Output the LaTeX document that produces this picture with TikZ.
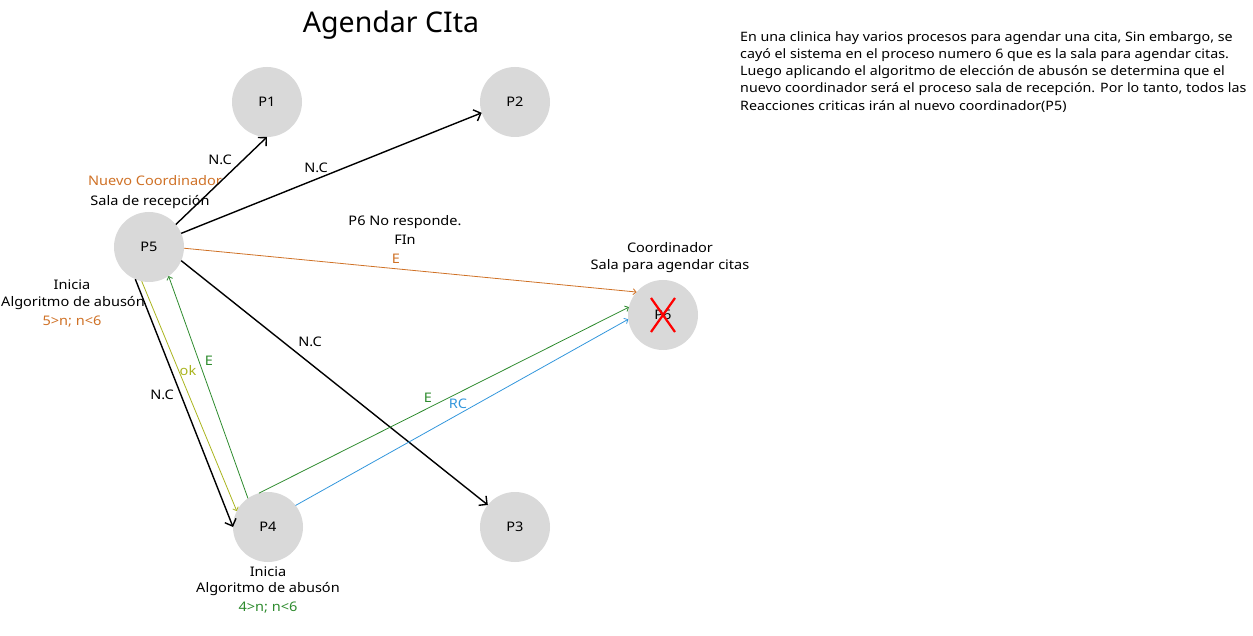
\documentclass[tikz,border=0pt]{standalone}
\usepackage{fontspec}
\setmainfont[FakeStretch=1.1]{Noto Sans}
\newfontfamily\titlefont{Noto Sans}
\usetikzlibrary{arrows.meta}
\definecolor{nodegrey}{HTML}{D9D9D9}
\definecolor{orng}{HTML}{CF7126}
\definecolor{grn}{HTML}{2E8B2E}
\definecolor{ylw}{HTML}{AAB41E}
\definecolor{blu}{HTML}{3296DC}
\tikzset{
  proc/.style={circle, fill=nodegrey, minimum size=70pt, inner sep=0pt, outer sep=0pt, font=\fontsize{13.2}{15}\selectfont},
  lbl/.style={inner sep=0pt, font=\fontsize{13.2}{15}\selectfont, align=center},
  blk/.style={draw=black, line width=1.4pt, -{Straight Barb[length=6pt,width=12pt,line width=1.4pt]}},
  thin/.style={line width=0.8pt, -{Straight Barb[length=3pt,width=6pt,line width=0.8pt]}},
}
\begin{document}
\begin{tikzpicture}[x=1pt,y=-1pt]
\useasboundingbox (0,0) rectangle (1253,636);
% nodes
\node[proc] (p1) at (267,102) {P1};
\node[proc] (p2) at (515,102) {P2};
\node[proc] (p5) at (149,247) {P5};
\node[proc] (p6) at (663,315) {P6};
\node[proc] (p4) at (268,527) {P4};
\node[proc] (p3) at (515,527) {P3};
% red cross
\draw[red, line width=2.2pt] ([shift={(-12pt,-17pt)}]p6.center) coordinate (x1) -- ([shift={(12pt,17pt)}]p6.center) coordinate (x2);
\draw[red, line width=2.2pt] ([shift={(12pt,-17pt)}]p6.center) coordinate (x3) -- ([shift={(-12pt,17pt)}]p6.center) coordinate (x4);
% title and text
\node[lbl, font=\titlefont\fontsize{28.5}{32}\selectfont] (title) at (391,25) {Agendar CIta};
\node[lbl, anchor=north west, align=left, font=\fontsize{12.95}{17.3}\selectfont] (desc) at (740,31) {En una clinica hay varios procesos para agendar una cita, Sin embargo, se\\cayó el sistema en el proceso numero 6 que es la sala para agendar citas.\\Luego aplicando el algoritmo de elección de abusón se determina que el\\nuevo coordinador será el proceso sala de recepción. Por lo tanto, todos las\\Reacciones criticas irán al nuevo coordinador(P5)};
\node[lbl, text=orng] (nc) at (155,181) {Nuevo Coordinador};
\node[lbl] (sr) at (150,202) {Sala de recepción};
\node[lbl] (i5) at (72,285) {Inicia};
\node[lbl] (a5) at (73,303) {Algoritmo de abusón};
\node[lbl, text=orng] (n5) at (72,322) {5>n; n<6};
\node[lbl] (i4) at (268,572) {Inicia};
\node[lbl] (a4) at (268,589) {Algoritmo de abusón};
\node[lbl, text=grn] (n4) at (268,608) {4>n; n<6};
\node[lbl] (nr) at (405,222) {P6 No responde.};
\node[lbl] (fin) at (405,240) {FIn};
\node[lbl] (co) at (670,248) {Coordinador};
\node[lbl] (sp) at (670,266) {Sala para agendar citas};
% connectors
\draw[blk] (p5.40) -- (p1.south);
\draw[blk] (p5.23) -- (p2.-162);
\draw[blk] (p5.-23) -- (p3.141);
\draw[blk] (p5.-113) -- (p4.180);
\draw[thin, draw=orng] (p5.-2) -- (p6.139);
\draw[thin, draw=ylw] (p5.-102) -- (p4.153);
\draw[thin, draw=grn] (p4.125) -- (p5.-56);
\draw[thin, draw=grn] (p4.105) -- (p6.167);
\draw[thin, draw=blu] (p4.38) -- (p6.-173);
% connector labels
\node[lbl] (l1) at (220,160) {N.C};
\node[lbl] (l2) at (316,168) {N.C};
\node[lbl] (l3) at (310,342) {N.C};
\node[lbl] (l4) at (162,395) {N.C};
\node[lbl, text=orng] (l5) at (396,259) {E};
\node[lbl, text=ylw] (l6) at (188,371) {ok};
\node[lbl, text=grn] (l7) at (209,361) {E};
\node[lbl, text=grn] (l8) at (428,398) {E};
\node[lbl, text=blu] (l9) at (458,404) {RC};
\end{tikzpicture}
\end{document}
